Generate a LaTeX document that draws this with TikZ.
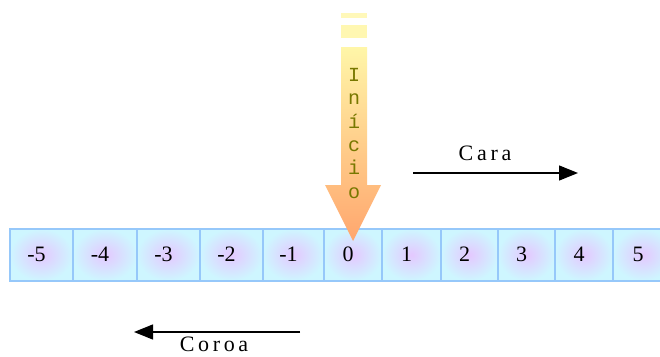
\documentclass[tikz,border=0pt]{standalone}
\usepackage{fontspec}
\setmainfont{Liberation Serif}
\newfontfamily\monofont{Liberation Mono}
\usetikzlibrary{arrows.meta}
\definecolor{cellfill}{RGB}{206,246,255}
\definecolor{cellcore}{RGB}{228,200,255}
\definecolor{cellline}{RGB}{150,200,250}
\definecolor{arrowtop}{RGB}{255,246,168}
\definecolor{arrowbot}{RGB}{255,166,110}
\definecolor{olivetext}{RGB}{120,120,0}
\tikzset{
  cell/.style={draw=cellline, line width=1.8pt, inner color=cellcore, outer color=cellfill, inner sep=0pt},
  cellnum/.style={font=\fontsize{22}{22}\selectfont, inner sep=0pt},
  direction/.style={line width=1.3pt, -{Triangle[length=19pt,width=15pt]}},
  dirlabel/.style={font=\fontsize{22}{22}\selectfont, inner sep=0pt},
}
\begin{document}
\begin{tikzpicture}[x=1pt,y=-1pt]
\useasboundingbox (0,0) rectangle (660,356);
\fill[white] (0,0) rectangle (660,356);
% row of numbered cells
\foreach \l/\r/\v [count=\i] in {9/72/-5,72/136/-4,136/199/-3,199/262/-2,262/323/-1,323/381/0,381/440/1,440/497/2,497/554/3,554/612/4,612/672/5}{
  \node[cell, minimum width={(\r-\l)*1pt}, minimum height=52pt, anchor=north west] (c\i) at (\l,228) {};
  \node[cellnum] (v\i) at ({(\l+\r)/2-4},254) {\v};
}
% starting arrow with fading stripes
\fill[arrowtop!80!white] (341,13) rectangle (367,18);
\fill[arrowtop!90!white] (341,25) rectangle (367,38);
\shade[top color=arrowtop, bottom color=arrowbot]
  (341,47) -- (367,47) -- (367,185) -- (381,185) -- (353,241) -- (325,185) -- (341,185) -- cycle;
\node[font=\monofont\fontsize{20}{23.4}\selectfont, text=olivetext, align=center, inner sep=0pt, anchor=north]
  (inicio) at (354,68) {I\\n\\í\\c\\i\\o};
% direction arrows
\coordinate (caraA) at (413,173);
\coordinate (caraB) at (578,173);
\draw[direction] (caraA) -- (caraB);
\node[dirlabel, anchor=base] (cara) at (485,160) {C\,a\,r\,a};
\coordinate (coroaA) at (300,332);
\coordinate (coroaB) at (134,332);
\draw[direction] (coroaA) -- (coroaB);
\node[dirlabel, anchor=base] (coroa) at (214,351) {C\,o\,r\,o\,a};
\end{tikzpicture}
\end{document}
